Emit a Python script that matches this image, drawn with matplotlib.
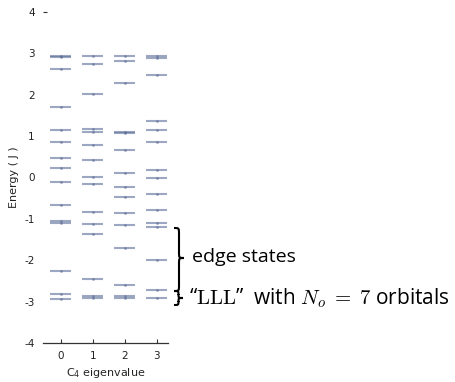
import matplotlib
matplotlib.use("Agg")
import matplotlib.pyplot as plt
from matplotlib.path import Path
from matplotlib.patches import PathPatch
import numpy as np

# Energy levels (units of J) for each C4 eigenvalue sector
c4_values = [0, 1, 2, 3]
levels_c4_0 = [2.93, 2.91, 2.62, 1.71, 1.15, 0.87, 0.47, 0.24, -0.11, -0.66, -1.06, -1.10, -2.26, -2.82, -2.93]
levels_c4_1 = [2.94, 2.74, 2.02, 1.18, 1.09, 0.79, 0.43, 0.02, -0.16, -0.84, -1.13, -1.36, -2.45, -2.87, -2.91]
levels_c4_2 = [2.94, 2.82, 2.28, 1.11, 1.07, 0.66, 0.12, -0.23, -0.47, -0.87, -1.14, -1.70, -2.61, -2.87, -2.91]
levels_c4_3 = [2.94, 2.88, 2.47, 1.37, 1.14, 0.85, 0.18, -0.01, -0.41, -0.79, -1.09, -1.19, -2.00, -2.72, -2.91]
yticks = [-4, -3, -2, -1, 0, 1, 2, 3, 4]
xticks = [0, 1, 2, 3]

W, H = 456, 382
fig = plt.figure(figsize=(W / 100, H / 100), dpi=100)
ax = fig.add_axes([43 / W, 1 - 343 / H, 125 / W, (343 - 12) / H])

color = "#5a6d98"
for c, lv in zip(c4_values, [levels_c4_0, levels_c4_1, levels_c4_2, levels_c4_3]):
    xs = np.full(len(lv), c, dtype=float)
    ax.errorbar(xs, lv, xerr=0.33, fmt="o", ms=2.0, color=color, ecolor=color,
                elinewidth=1.5, capsize=0, alpha=0.6, mew=0)

ax.set_xlim(-0.55, 3.35)
ax.set_ylim(-4, 4)
ax.set_xticks(xticks)
ax.set_yticks(yticks)
ax.set_yticklabels([str(t) for t in yticks])
for s in ["top", "right", "left"]:
    ax.spines[s].set_visible(False)
ax.spines["bottom"].set_color("#333333")
ax.spines["bottom"].set_linewidth(0.9)
ax.tick_params(axis="both", direction="in", length=3, width=0.8, colors="#333333",
               labelsize=7.5, labelcolor="#222222")
ax.tick_params(axis="y", pad=6)
ax.tick_params(axis="x", pad=6)
for i, t in enumerate(ax.yaxis.get_major_ticks()):
    if yticks[i] != 4:
        t.tick1line.set_visible(False)
    else:
        t.tick1line.set_color("#999999")

ax.set_xlabel(r"C$_\mathsf{4}$ eigenvalue", fontsize=8, color="#222222", labelpad=3)
ax.set_ylabel("Energy ( J )", fontsize=8, color="#222222", labelpad=4)


def brace(x0, top, bot, tip_x, mid, r=6):
    xm = (x0 + tip_x) / 2.0
    pts = [(x0, top), (xm, top), (xm, top), (xm, top + r),
           (xm, mid - r),
           (xm, mid), (xm, mid), (tip_x, mid),
           (xm, mid), (xm, mid), (xm, mid + r),
           (xm, bot - r),
           (xm, bot), (xm, bot), (x0, bot)]
    codes = [Path.MOVETO, Path.CURVE4, Path.CURVE4, Path.CURVE4,
             Path.LINETO,
             Path.CURVE4, Path.CURVE4, Path.CURVE4,
             Path.CURVE4, Path.CURVE4, Path.CURVE4,
             Path.LINETO,
             Path.CURVE4, Path.CURVE4, Path.CURVE4]
    pts = [(px / W, 1 - py / H) for px, py in pts]
    patch = PathPatch(Path(pts, codes), transform=fig.transFigure, fill=False,
                      lw=1.5, edgecolor="black", clip_on=False)
    fig.add_artist(patch)


brace(174, 228, 291, 184, 258, r=6)
brace(174, 291, 305, 183, 298, r=4)

fig.text(192 / W, 1 - 257 / H, "edge states", fontsize=14, family="Open Sans",
         va="center", ha="left", color="black")
fig.text(189 / W, 1 - 298 / H, "“$\\mathrm{LLL}$”  with $N_o\\;=\\;7$ orbitals", fontsize=15,
         family="Open Sans", math_fontfamily="cm", va="center", ha="left", color="black")

fig.savefig("out.png", dpi=100)
